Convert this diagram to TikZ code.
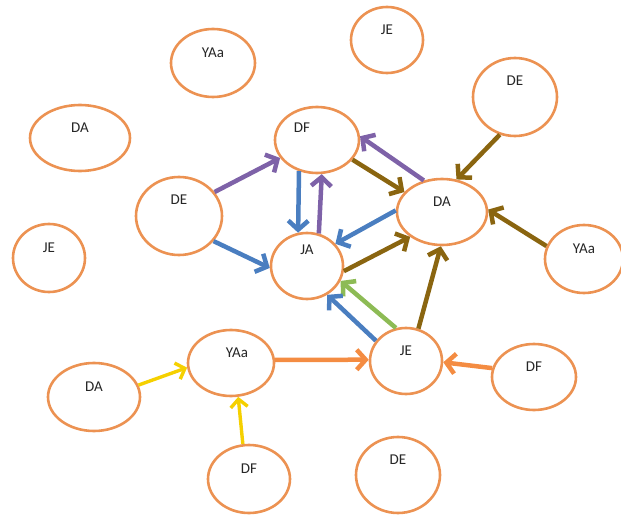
\documentclass[tikz,border=0pt]{standalone}
\usepackage{fontspec}
\setmainfont{Carlito}
\usetikzlibrary{shapes.geometric,arrows.meta}
\definecolor{ecol}{RGB}{236,146,82}
\definecolor{cpur}{RGB}{126,98,168}
\definecolor{cblu}{RGB}{74,126,192}
\definecolor{cbrn}{RGB}{138,101,16}
\definecolor{cgrn}{RGB}{141,187,85}
\definecolor{corg}{RGB}{244,140,66}
\definecolor{cyel}{RGB}{245,208,0}
\tikzset{
  st/.style={ellipse, draw=ecol, line width=2.6pt, fill=white, inner sep=0pt},
  lab/.style={font=\fontsize{15}{15}\selectfont, text=black!85, yshift=10pt},
  arr/.style={line width=4.5pt, -{Straight Barb[length=9pt,width=20pt]}},
  arrs/.style={line width=3.4pt, -{Straight Barb[length=8pt,width=17pt]}},
}
\begin{document}
\begin{tikzpicture}[x=1pt,y=-1pt]
\useasboundingbox (0,0) rectangle (621,516);
% nodes
\node[st, minimum width=84pt, minimum height=68pt, label={[lab]center:YAa}] (yaaT) at (213,63) {};
\node[st, minimum width=72pt, minimum height=66pt, label={[lab]center:JE}] (jeT) at (387,40) {};
\node[st, minimum width=84pt, minimum height=78pt, label={[lab,yshift=6pt]center:DE}] (deTR) at (515,97) {};
\node[st, minimum width=100pt, minimum height=66pt, label={[lab]center:DA}] (daL) at (80,138) {};
\node[st, minimum width=84pt, minimum height=66pt, label={[lab,xshift=-15pt,yshift=2pt]center:DF}] (df) at (317,140) {};
\node[st, minimum width=86pt, minimum height=78pt, label={[lab,yshift=6pt]center:DE}] (deL) at (179,216) {};
\node[st, minimum width=90pt, minimum height=66pt, label={[lab]center:DA}] (da) at (442,212) {};
\node[st, minimum width=72pt, minimum height=68pt, label={[lab]center:JE}] (jeL) at (49,258) {};
\node[st, minimum width=72pt, minimum height=66pt, label={[lab,yshift=6pt]center:JA}] (ja) at (307,266) {};
\node[st, minimum width=78pt, minimum height=68pt, label={[lab]center:YAa}] (yaaR) at (584,259) {};
\node[st, minimum width=86pt, minimum height=66pt, label={[lab,xshift=6pt]center:YAa}] (yaaB) at (231,363) {};
\node[st, minimum width=72pt, minimum height=66pt, label={[lab]center:JE}] (jeB) at (406,361) {};
\node[st, minimum width=84pt, minimum height=66pt, label={[lab]center:DF}] (dfR) at (534,377) {};
\node[st, minimum width=92pt, minimum height=68pt, label={[lab]center:DA}] (daB) at (94,397) {};
\node[st, minimum width=82pt, minimum height=68pt, label={[lab]center:DF}] (dfB) at (249,479) {};
\node[st, minimum width=84pt, minimum height=76pt, label={[lab,yshift=5pt]center:DE}] (deB) at (398,475) {};
% connectors
\draw[arr, cpur] (deL.34) -- (df.206);
\draw[arr, cblu] (deL.324) -- (ja.183);
\draw[arr, cblu] (df.240) -- (ja.105);
\draw[arr, cpur] (ja.70) -- (df.278);
\draw[arr, cpur] (da.120) -- (df.5);
\draw[arr, cbrn] (df.331) -- (da.152);
\draw[arr, cblu] (da.178) -- (ja.38);
\draw[arr, cbrn] (ja.352) -- (da.218);
\draw[arr, cbrn] (deTR.248) -- (da.66);
\draw[arr, cbrn] (yaaR.161) -- (da.3);
\draw[arr, cbrn] (jeB.69) -- (da.268);
\draw[arr, cgrn] (jeB.107) -- (ja.336);
\draw[arr, cblu] (jeB.146) -- (ja.305);
\draw[arr, corg] (yaaB.4) -- (jeB.178);
\draw[arr, corg] (dfR.168) -- (jeB.358);
\draw[arrs, cyel] (daB.15) -- (yaaB.186);
\draw[arrs, cyel] (dfB.100) -- (yaaB.282);
\end{tikzpicture}
\end{document}
